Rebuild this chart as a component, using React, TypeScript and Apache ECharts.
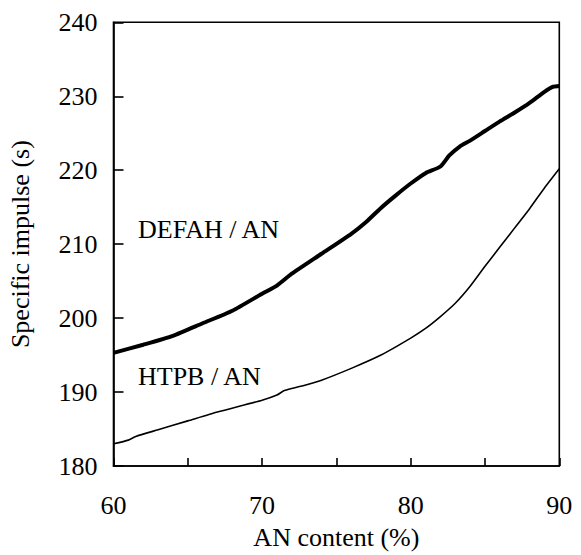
import React, { useEffect, useRef } from "react";
import * as echarts from "echarts";

const defahX = [60, 62, 64, 66, 68, 70, 71, 72, 74, 76, 77, 78, 79, 80, 81, 82, 82.6, 83.3, 84, 85, 86, 87, 88, 89, 89.6, 90];
const defahY = [195.3, 196.4, 197.6, 199.3, 201.0, 203.3, 204.4, 206.0, 208.7, 211.4, 213.0, 214.9, 216.6, 218.2, 219.6, 220.5, 222.0, 223.2, 224.0, 225.3, 226.6, 227.8, 229.1, 230.6, 231.3, 231.4];

const htpbX = [60, 61, 61.5, 63, 65, 67, 70, 71, 71.5, 73, 74, 76, 78, 80, 81, 82, 83, 84, 85, 86, 87, 88, 89, 90];
const htpbY = [183.0, 183.5, 184.0, 184.9, 186.1, 187.3, 188.9, 189.6, 190.2, 191.0, 191.6, 193.2, 195.0, 197.3, 198.6, 200.2, 202.0, 204.3, 207.0, 209.6, 212.2, 214.8, 217.6, 220.2];

const seriesNames = ["DEFAH / AN", "HTPB / AN"];
const xAxisTitle = "AN content (%)";
const yAxisTitle = "Specific impulse (s)";

const FONT = "Liberation Serif";

export default function App() {
  const ref = useRef<HTMLDivElement>(null);
  useEffect(() => {
    if (!ref.current) return;
    const chart = echarts.init(ref.current, null, { renderer: "svg" });
    const pairs = (xs: number[], ys: number[]) => xs.map((x, i) => [x, ys[i]]);
    const txt = { fontFamily: FONT, fontSize: 26, color: "#000" };
    chart.setOption({
      animation: false,
      backgroundColor: "#fff",
      textStyle: { fontFamily: FONT },
      grid: {
        left: 113.5,
        right: 21.7,
        top: 22.3,
        bottom: 89,
        outerBoundsMode: "none",
        containLabel: false,
        show: true,
        borderColor: "#000",
        borderWidth: 1.6,
      },
      xAxis: {
        type: "value",
        min: 60,
        max: 90,
        interval: 5,
        name: xAxisTitle,
        nameLocation: "middle",
        nameGap: 58,
        nameTextStyle: txt,
        axisLine: { show: true, lineStyle: { color: "#000", width: 1.6 } },
        axisTick: { show: true, inside: true, length: 8, lineStyle: { color: "#000", width: 1.6 } },
        axisLabel: {
          ...txt,
          margin: 26,
          formatter: (v: number) => (v % 10 === 0 ? String(v) : ""),
        },
        splitLine: { show: false },
      },
      yAxis: {
        type: "value",
        min: 180,
        max: 240,
        interval: 10,
        name: yAxisTitle,
        nameLocation: "middle",
        nameGap: 80,
        nameTextStyle: txt,
        axisLine: { show: true, lineStyle: { color: "#000", width: 1.6 } },
        axisTick: { show: true, inside: true, length: 10, lineStyle: { color: "#000", width: 1.6 } },
        axisLabel: { ...txt, margin: 16 },
        splitLine: { show: false },
      },
      graphic: [
        {
          type: "text",
          left: 138,
          top: 216,
          style: { text: seriesNames[0], fontFamily: FONT, fontSize: 26, fill: "#000" },
        },
        {
          type: "text",
          left: 138,
          top: 363,
          style: { text: seriesNames[1], fontFamily: FONT, fontSize: 26, fill: "#000" },
        },
      ],
      series: [
        {
          name: seriesNames[0],
          type: "line",
          data: pairs(defahX, defahY),
          showSymbol: false,
          smooth: 0.2,
          lineStyle: { color: "#000", width: 4 },
        },
        {
          name: seriesNames[1],
          type: "line",
          data: pairs(htpbX, htpbY),
          showSymbol: false,
          smooth: 0.2,
          lineStyle: { color: "#000", width: 1.6 },
        },
      ],
    });
    return () => chart.dispose();
  }, []);
  return (
    <div
      ref={ref}
      style={{ position: "absolute", left: 0, top: 0, width: 581, height: 555 }}
    />
  );
}
